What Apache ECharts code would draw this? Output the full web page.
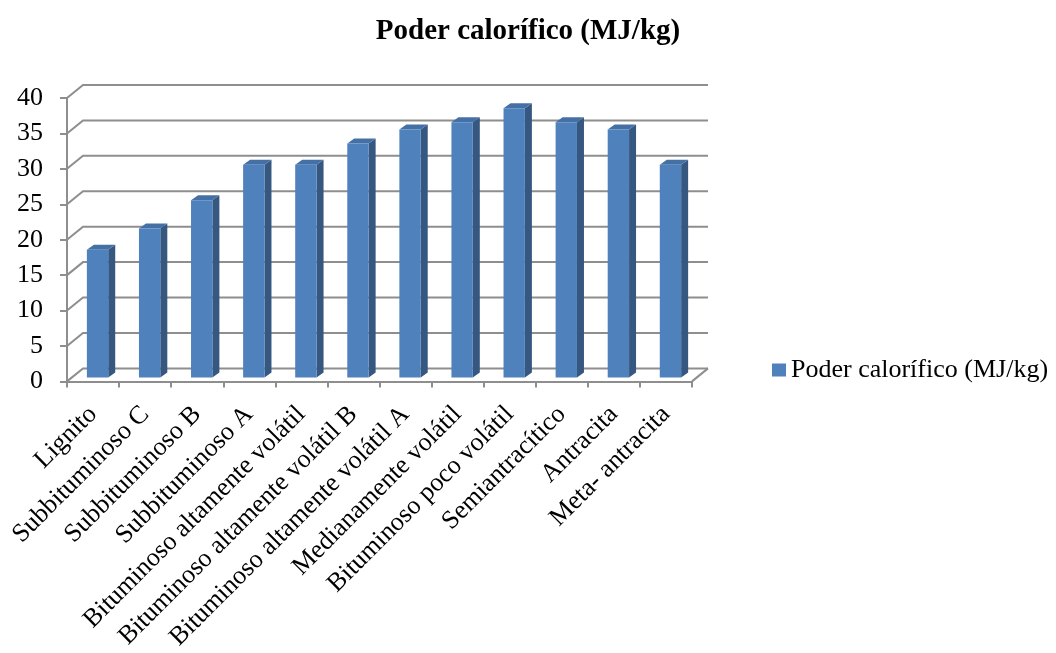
<!DOCTYPE html>
<html>
<head>
<meta charset="utf-8">
<script src="https://cdn.jsdelivr.net/npm/echarts@6/dist/echarts.min.js"></script>
<style>
  html, body { margin: 0; padding: 0; background: #fff; }
  #chart { width: 1056px; height: 653px; }
</style>
</head>
<body>
<div id="chart"></div>
<script>
// Coal ranks and their heating value
const categories = [
  'Lignito',
  'Subbituminoso C',
  'Subbituminoso B',
  'Subbituminoso A',
  'Bituminoso altamente volátil',
  'Bituminoso altamente volátil B',
  'Bituminoso altamente volátil A',
  'Medianamente volátil',
  'Bituminoso poco volátil',
  'Semiantracítico',
  'Antracita',
  'Meta- antracita'
];
const poderCalorifico = [18, 21, 25, 30, 30, 33, 35, 36, 38, 36, 35, 30];
const yTicks = [0, 5, 10, 15, 20, 25, 30, 35, 40];
const seriesName = 'Poder calorífico (MJ/kg)';

const FONT = '"Liberation Serif", "Times New Roman", serif';
const GRID_COLOR = '#8e8e8e';
// depth offset of the back wall and of each bar's depth
const WALL_DX = 16, WALL_DY = -13;
const BAR_DX = 7, BAR_DY = -5;
const BAR_SHIFT_X = 4.5, BAR_SHIFT_Y = -4;

const chart = echarts.init(document.getElementById('chart'), null, { renderer: 'canvas' });

// back wall gridlines with the left-side diagonals
function renderWall(params, api) {
  const cs = params.coordSys;
  const v = api.value(1);
  const y = api.coord([0, v])[1];
  const x0 = cs.x, x1 = cs.x + cs.width;
  const style = { stroke: GRID_COLOR, lineWidth: 2, fill: null };
  const children = [{
    type: 'polyline',
    shape: { points: [[x0, y], [x0 + WALL_DX, y + WALL_DY], [x1 + WALL_DX, y + WALL_DY]] },
    style: style
  }];
  if (v === 0) {
    children.push({
      type: 'line',
      shape: { x1: x1, y1: y, x2: x1 + WALL_DX, y2: y + WALL_DY },
      style: style
    });
  }
  return { type: 'group', children: children };
}

// pseudo-3D column: front face, side face and top cap
function renderBar(params, api) {
  const idx = api.value(0);
  const val = api.value(1);
  const top = api.coord([idx, val]);
  const base = api.coord([idx, 0]);
  const bw = api.size([1, 0])[0] * 0.41;
  const cx = top[0] + BAR_SHIFT_X;
  const xl = cx - bw / 2, xr = cx + bw / 2;
  const yt = top[1] + BAR_SHIFT_Y, yb = base[1] + BAR_SHIFT_Y;
  return {
    type: 'group',
    children: [
      {
        type: 'polygon',
        shape: { points: [[xr, yt], [xr + BAR_DX, yt + BAR_DY], [xr + BAR_DX, yb + BAR_DY], [xr, yb]] },
        style: { fill: '#36577f' }
      },
      {
        type: 'polygon',
        shape: { points: [[xl, yt], [xl + BAR_DX, yt + BAR_DY], [xr + BAR_DX, yt + BAR_DY], [xr, yt]] },
        style: { fill: '#4470a6' }
      },
      {
        type: 'rect',
        shape: { x: xl, y: yt, width: xr - xl, height: yb - yt },
        style: { fill: '#4f81bd' }
      }
    ]
  };
}

const option = {
  backgroundColor: '#ffffff',
  animation: false,
  title: {
    text: seriesName,
    left: 'center',
    top: 12,
    textStyle: { fontFamily: FONT, fontSize: 29, fontWeight: 'bold', color: '#000' }
  },
  legend: {
    data: [{ name: seriesName, icon: 'rect' }],
    left: 767,
    top: 352,
    itemWidth: 14,
    itemHeight: 13,
    itemGap: 10,
    textStyle: { fontFamily: FONT, fontSize: 26, color: '#000', padding: [0, 0, 0, 0] }
  },
  grid: { left: 67, right: 364, top: 98, bottom: 270, containLabel: false },
  xAxis: {
    type: 'category',
    data: categories,
    boundaryGap: true,
    axisLine: { show: true, lineStyle: { color: GRID_COLOR, width: 2 } },
    axisTick: { show: true, length: 6, alignWithLabel: false, lineStyle: { color: GRID_COLOR, width: 2 } },
    axisLabel: {
      interval: 0,
      rotate: 45,
      margin: 29,
      fontFamily: FONT,
      fontSize: 26,
      color: '#000'
    },
    splitLine: { show: false }
  },
  yAxis: {
    type: 'value',
    min: 0,
    max: 40,
    interval: 5,
    axisLine: { show: true, lineStyle: { color: GRID_COLOR, width: 2 } },
    axisTick: { show: true, length: 7, lineStyle: { color: GRID_COLOR, width: 2 } },
    axisLabel: {
      margin: 24,
      fontFamily: FONT,
      fontSize: 26,
      color: '#000',
      formatter: function (v) { return yTicks.indexOf(v) >= 0 ? String(v) : ''; }
    },
    splitLine: { show: false }
  },
  series: [
    {
      name: 'wall',
      type: 'custom',
      coordinateSystem: 'cartesian2d',
      renderItem: renderWall,
      data: yTicks.map(function (v) { return [0, v]; }),
      encode: { x: 0, y: 1 },
      clip: false,
      silent: true,
      z: 1
    },
    {
      name: seriesName,
      type: 'custom',
      coordinateSystem: 'cartesian2d',
      renderItem: renderBar,
      data: poderCalorifico.map(function (v, i) { return [i, v]; }),
      encode: { x: 0, y: 1 },
      itemStyle: { color: '#4f81bd' },
      clip: false,
      z: 3
    }
  ]
};

chart.setOption(option);
</script>
</body>
</html>
